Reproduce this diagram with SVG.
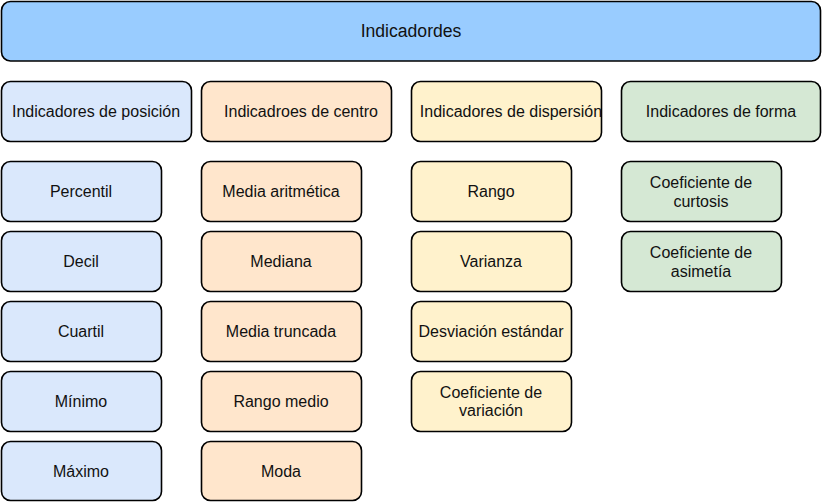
<svg xmlns="http://www.w3.org/2000/svg" width="822" height="502" viewBox="0 0 822 502">
<style>
rect{stroke:#000;stroke-width:1.6}
text{font-family:"Liberation Sans",Arial,sans-serif;font-size:16px;fill:#111;text-anchor:middle}
.t{font-size:17.6px}
.top{fill:#99ccff}
.b{fill:#dae8fc}
.o{fill:#ffe6cc}
.y{fill:#fff2cc}
.g{fill:#d5e8d4}
</style>
<rect width="822" height="502" fill="#fff" style="stroke:none"/>
<g id="top"><rect class="top" x="1.5" y="1.5" width="819" height="59.5" rx="9"/><text class="t" x="411" y="37">Indicadordes</text></g>
<g id="h-posicion"><rect class="b" x="1.5" y="81.5" width="190" height="60" rx="9"/><text x="96" y="116.5">Indicadores de posición</text></g>
<g id="h-centro"><rect class="o" x="201.5" y="81.5" width="190" height="60" rx="9"/><text x="301" y="116.5">Indicadroes de centro</text></g>
<g id="h-dispersion"><rect class="y" x="411.5" y="81.5" width="190" height="60" rx="9"/><text x="511" y="116.5">Indicadores de dispersión</text></g>
<g id="h-forma"><rect class="g" x="621.5" y="81.5" width="199" height="60" rx="9"/><text x="721" y="116.5">Indicadores de forma</text></g>

<g id="percentil"><rect class="b" x="1.5" y="161.5" width="160" height="60" rx="9"/><text x="81" y="196.5">Percentil</text></g>
<g id="decil"><rect class="b" x="1.5" y="231.5" width="160" height="60" rx="9"/><text x="81" y="266.5">Decil</text></g>
<g id="cuartil"><rect class="b" x="1.5" y="301.5" width="160" height="60" rx="9"/><text x="81" y="336.5">Cuartil</text></g>
<g id="minimo"><rect class="b" x="1.5" y="371.5" width="160" height="60" rx="9"/><text x="81" y="406.5">Mínimo</text></g>
<g id="maximo"><rect class="b" x="1.5" y="441.5" width="160" height="59" rx="9"/><text x="81" y="476.5">Máximo</text></g>

<g id="media"><rect class="o" x="201.5" y="161.5" width="160" height="60" rx="9"/><text x="281" y="196.5">Media aritmética</text></g>
<g id="mediana"><rect class="o" x="201.5" y="231.5" width="160" height="60" rx="9"/><text x="281" y="266.5">Mediana</text></g>
<g id="truncada"><rect class="o" x="201.5" y="301.5" width="160" height="60" rx="9"/><text x="281" y="336.5">Media truncada</text></g>
<g id="rangomedio"><rect class="o" x="201.5" y="371.5" width="160" height="60" rx="9"/><text x="281" y="406.5">Rango medio</text></g>
<g id="moda"><rect class="o" x="201.5" y="441.5" width="160" height="59" rx="9"/><text x="281" y="476.5">Moda</text></g>

<g id="rango"><rect class="y" x="411.5" y="161.5" width="160" height="60" rx="9"/><text x="491" y="196.5">Rango</text></g>
<g id="varianza"><rect class="y" x="411.5" y="231.5" width="160" height="60" rx="9"/><text x="491" y="266.5">Varianza</text></g>
<g id="desviacion"><rect class="y" x="411.5" y="301.5" width="160" height="60" rx="9"/><text x="491" y="336.5">Desviación estándar</text></g>
<g id="cv"><rect class="y" x="411.5" y="371.5" width="160" height="60" rx="9"/><text x="491" y="397.5">Coeficiente de</text><text x="491" y="416">variación</text></g>

<g id="curtosis"><rect class="g" x="621.5" y="161.5" width="160" height="60" rx="9"/><text x="701" y="188">Coeficiente de</text><text x="701" y="206.5">curtosis</text></g>
<g id="asimetria"><rect class="g" x="621.5" y="231.5" width="160" height="60" rx="9"/><text x="701" y="258">Coeficiente de</text><text x="701" y="276.5">asimetía</text></g>
<g id="connectors"></g>
</svg>
